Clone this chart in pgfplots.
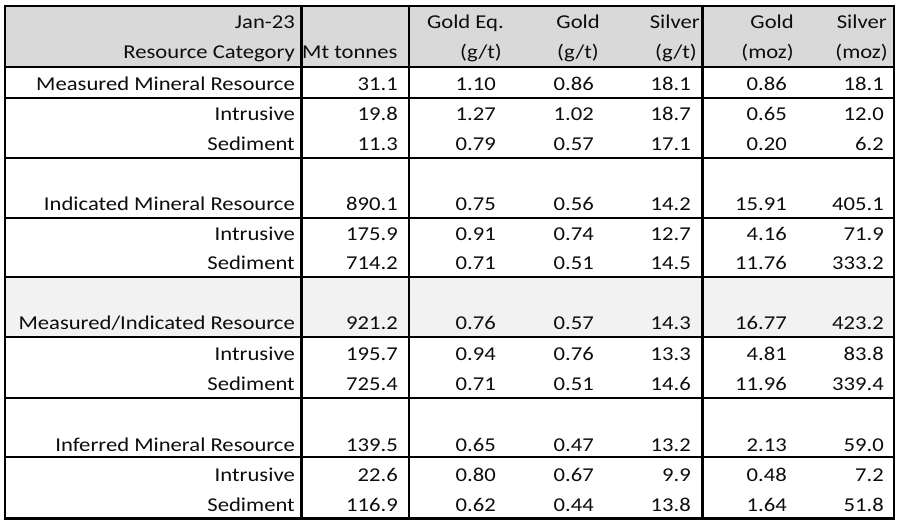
\documentclass[border=0pt]{standalone}
\usepackage{pgfplots}
\usepackage{pgfplotstable}
\pgfplotsset{compat=1.18}
\usepackage{fontspec}
\setmainfont{Carlito}[FakeStretch=1.155]
\definecolor{hdrgrey}{HTML}{D9D9D9}
\definecolor{rowgrey}{HTML}{F2F2F2}
\definecolor{txt}{HTML}{0D0D0D}

\pgfplotstableread[col sep=comma]{
y,cat,mt,geq,au,ag,aumoz,agmoz
91,Measured Mineral Resource,31.1,1.10,0.86,18.1,0.86,18.1
121,Intrusive,19.8,1.27,1.02,18.7,0.65,12.0
151,Sediment,11.3,0.79,0.57,17.1,0.20,6.2
211,Indicated Mineral Resource,890.1,0.75,0.56,14.2,15.91,405.1
241,Intrusive,175.9,0.91,0.74,12.7,4.16,71.9
270,Sediment,714.2,0.71,0.51,14.5,11.76,333.2
330,Measured/Indicated Resource,921.2,0.76,0.57,14.3,16.77,423.2
361,Intrusive,195.7,0.94,0.76,13.3,4.81,83.8
391,Sediment,725.4,0.71,0.51,14.6,11.96,339.4
451,Inferred Mineral Resource,139.5,0.65,0.47,13.2,2.13,59.0
481,Intrusive,22.6,0.80,0.67,9.9,0.48,7.2
511,Sediment,116.9,0.62,0.44,13.8,1.64,51.8
}\data

\pgfplotstableread[col sep=comma]{
x,y,t
295,29,Jan-23
295,59,Resource Category
504,29,Gold Eq.
502,59,(g/t)
600,29,Gold
599,59,(g/t)
700,29,Silver
697,59,(g/t)
794,29,Gold
794,59,(moz)
887,29,Silver
888,59,(moz)
}\hdr

\begin{document}
\begin{tikzpicture}
\begin{axis}[
  width=900pt, height=521pt, scale only axis,
  xmin=0, xmax=900, ymin=0, ymax=521, y dir=reverse,
  hide axis, clip=false,
  every node near coord/.append style={anchor=base east, inner sep=0pt, text=txt,
    font=\fontsize{19.6}{23}\selectfont},
]
% backgrounds
\fill[white] (axis cs:0,0) rectangle (axis cs:900,521);
\fill[hdrgrey] (axis cs:5,6) rectangle (axis cs:894,67);
\fill[rowgrey] (axis cs:5,277) rectangle (axis cs:894,337);
% horizontal rules
\draw[line width=1.3pt, black] (axis cs:5,67) -- (axis cs:894,67);
\draw[line width=1.3pt, black] (axis cs:5,98) -- (axis cs:894,98);
\draw[line width=1.3pt, black] (axis cs:5,158) -- (axis cs:894,158);
\draw[line width=1.3pt, black] (axis cs:5,218) -- (axis cs:894,218);
\draw[line width=1.3pt, black] (axis cs:5,277) -- (axis cs:894,277);
\draw[line width=1.3pt, black] (axis cs:5,337) -- (axis cs:894,337);
\draw[line width=1.3pt, black] (axis cs:5,398) -- (axis cs:894,398);
\draw[line width=1.3pt, black] (axis cs:5,457) -- (axis cs:894,457);
% vertical rules
\draw[line width=1.3pt, black] (axis cs:409,6) -- (axis cs:409,518);
\draw[line width=3pt, black] (axis cs:301,6) -- (axis cs:301,518);
\draw[line width=3pt, black] (axis cs:702,6) -- (axis cs:702,518);
% outer border
\draw[line width=2pt, black] (axis cs:5,518) -- (axis cs:5,6) -- (axis cs:894,6) -- (axis cs:894,518);
\draw[line width=3pt, black] (axis cs:4,518) -- (axis cs:895,518);

% header texts
\addplot[only marks, mark=none, nodes near coords, point meta=explicit symbolic]
  table[x=x, y=y, meta=t]{\hdr};
\addplot[only marks, mark=none, nodes near coords, point meta=explicit symbolic,
  every node near coord/.append style={anchor=base west}]
  coordinates {(302,59) [Mt tonnes]};

% body texts
\addplot[only marks, mark=none, nodes near coords, point meta=explicit symbolic]
  table[x expr=295, y=y, meta=cat]{\data};
\addplot[only marks, mark=none, nodes near coords, point meta=explicit symbolic]
  table[x expr=398, y=y, meta=mt]{\data};
\addplot[only marks, mark=none, nodes near coords, point meta=explicit symbolic]
  table[x expr=496, y=y, meta=geq]{\data};
\addplot[only marks, mark=none, nodes near coords, point meta=explicit symbolic]
  table[x expr=594, y=y, meta=au]{\data};
\addplot[only marks, mark=none, nodes near coords, point meta=explicit symbolic]
  table[x expr=691, y=y, meta=ag]{\data};
\addplot[only marks, mark=none, nodes near coords, point meta=explicit symbolic]
  table[x expr=787, y=y, meta=aumoz]{\data};
\addplot[only marks, mark=none, nodes near coords, point meta=explicit symbolic]
  table[x expr=884, y=y, meta=agmoz]{\data};
\end{axis}
\end{tikzpicture}
\end{document}
